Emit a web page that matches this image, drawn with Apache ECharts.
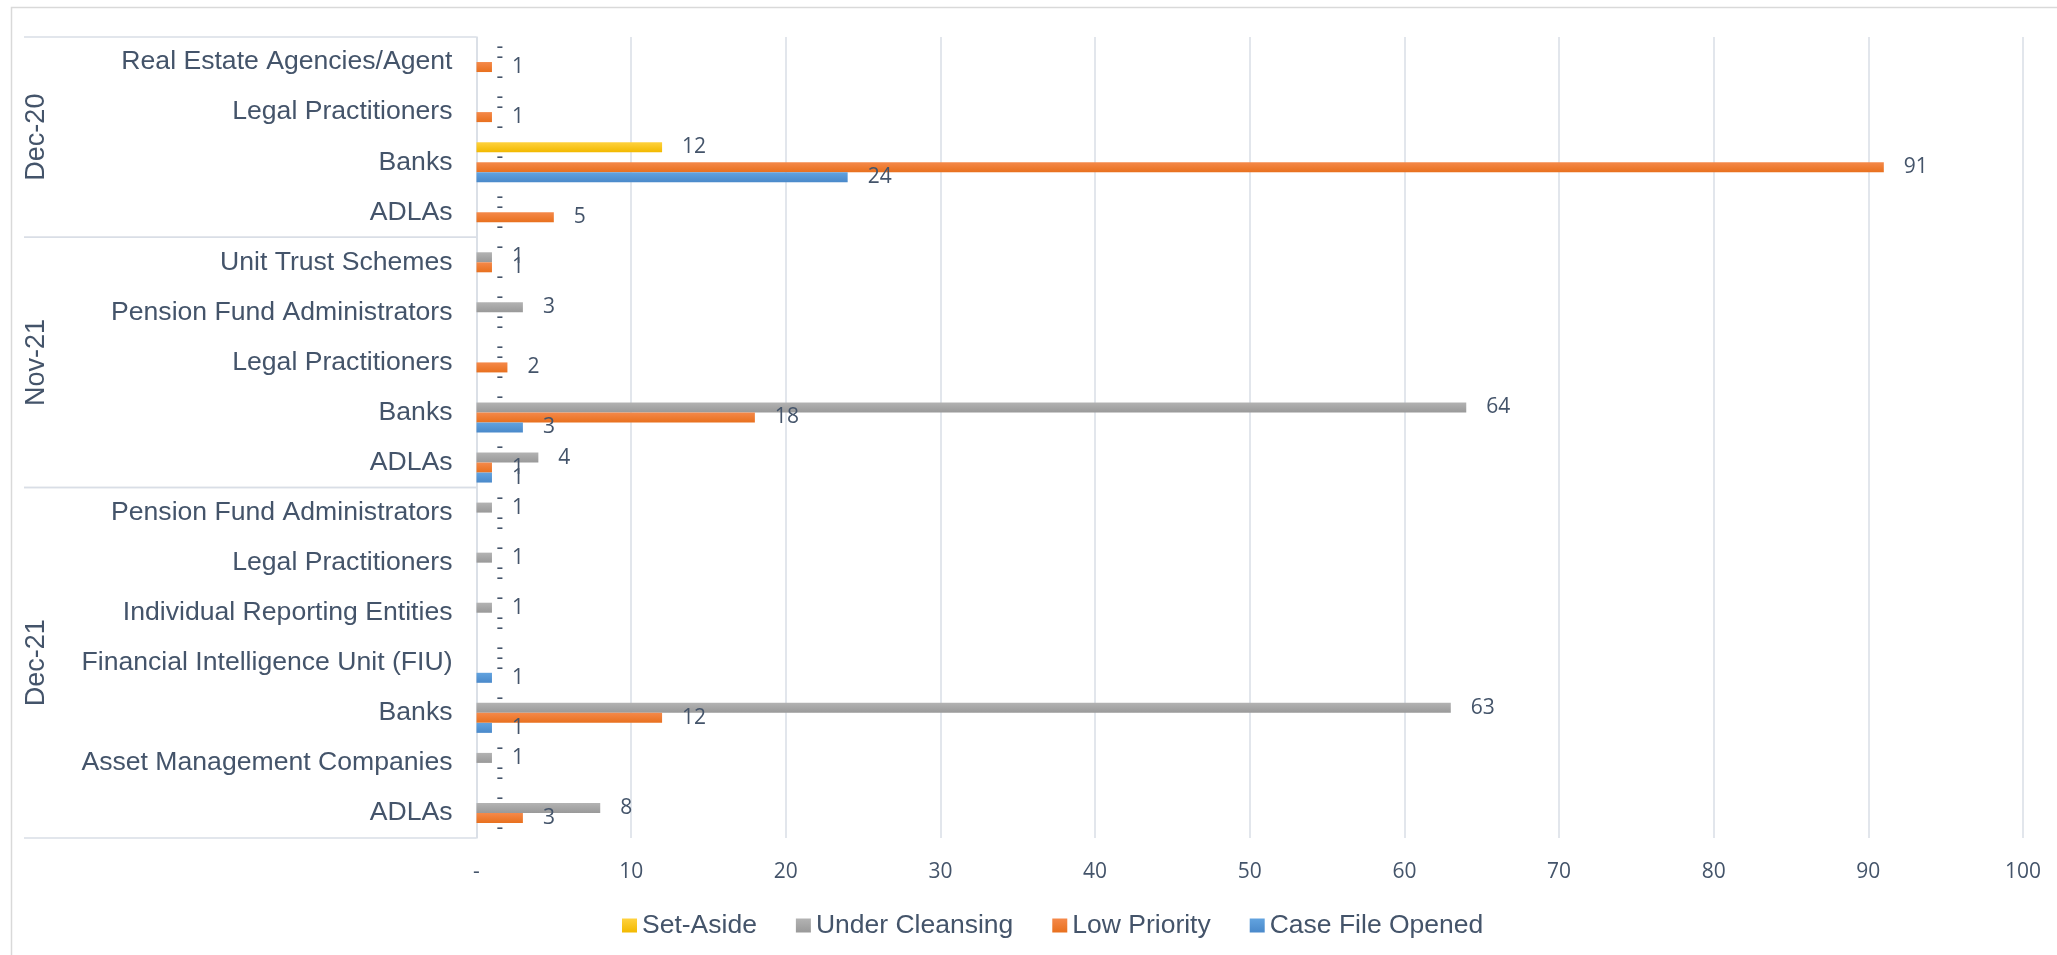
<!DOCTYPE html>
<html>
<head>
<meta charset="utf-8">
<script src="https://cdn.jsdelivr.net/npm/echarts@6/dist/echarts.min.js"></script>
<style>
html,body{margin:0;padding:0;background:#fff;}
#chart{width:2057px;height:955px;}
</style>
</head>
<body>
<div id="chart"></div>
<script>
// Groups listed bottom-to-top (as drawn on the category axis)
const groupNames = ["Dec-21", "Nov-21", "Dec-20"];
const dec21Cats = ["ADLAs", "Asset Management Companies", "Banks", "Financial Intelligence Unit (FIU)", "Individual Reporting Entities", "Legal Practitioners", "Pension Fund Administrators"];
const nov21Cats = ["ADLAs", "Banks", "Legal Practitioners", "Pension Fund Administrators", "Unit Trust Schemes"];
const dec20Cats = ["ADLAs", "Banks", "Legal Practitioners", "Real Estate Agencies/Agent"];

const seriesNames = ["Set-Aside", "Under Cleansing", "Low Priority", "Case File Opened"];

// values per group, same order as the category arrays
const setAside       = [0,0,0,0,0,0,0,   0,0,0,0,0,    0,12,0,0];
const underCleansing = [8,1,63,0,1,1,1,  4,64,0,3,1,   0,0,0,0];
const lowPriority    = [3,0,12,0,0,0,0,  1,18,2,0,1,   5,91,1,1];
const caseFileOpened = [0,0,1,1,0,0,0,   1,3,0,0,0,    0,24,0,0];

const xTicks = [0,10,20,30,40,50,60,70,80,90,100];

const groups = [dec21Cats, nov21Cats, dec20Cats];
const catKeys = [];
groups.forEach((g, gi) => g.forEach(c => { catKeys.push(groupNames[gi] + "|" + c); }));

const textColor = "#44546A";
const lineColor = "#D9DEE6";

function grad(top, bottom) {
  return new echarts.graphic.LinearGradient(0, 0, 0, 1, [
    {offset: 0, color: top}, {offset: 1, color: bottom}
  ]);
}
const colors = [grad("#FFD23F", "#F2B900"), grad("#B3B3B3", "#999999"), grad("#F5894A", "#E8701E"), grad("#62A3DF", "#4A89CA")];
const seriesData = [setAside, underCleansing, lowPriority, caseFileOpened];

const chart = echarts.init(document.getElementById("chart"), null, {renderer: "canvas"});

const option = {
  animation: false,
  backgroundColor: "#ffffff",
  grid: {left: 476.5, right: 34, top: 37, bottom: 117, containLabel: false},
  legend: {
    data: seriesNames,
    left: 617,
    top: 907,
    itemWidth: 15,
    itemHeight: 14,
    itemGap: 39,
    icon: "rect",
    textStyle: {fontFamily: "Liberation Sans, Arial, sans-serif", fontSize: 26.5, color: textColor}
  },
  xAxis: {
    type: "value",
    min: 0, max: 100, interval: 10,
    axisLine: {show: false},
    axisTick: {show: false},
    splitLine: {show: true, lineStyle: {color: lineColor, width: 1.5}},
    axisLabel: {
      margin: 24,
      fontFamily: "Open Sans, sans-serif",
      fontSize: 21,
      color: textColor,
      formatter: v => (v === 0 ? "-" : String(v))
    }
  },
  yAxis: {
    type: "category",
    data: catKeys,
    axisLine: {show: true, lineStyle: {color: lineColor, width: 1.5}},
    axisTick: {show: false},
    axisLabel: {
      margin: 24,
      fontFamily: "Liberation Sans, Arial, sans-serif",
      fontSize: 26.6,
      color: textColor,
      formatter: (v) => v.split("|")[1]
    }
  },
  series: seriesNames.map((name, i) => ({
    name: name,
    type: "bar",
    data: seriesData[i],
    barGap: "0%",
    barCategoryGap: "20%",
    itemStyle: {color: colors[i]},
    label: {
      show: true,
      position: "right",
      distance: 20,
      fontFamily: "Open Sans, sans-serif",
      fontSize: 21,
      color: textColor,
      formatter: p => (p.value === 0 ? "-" : String(p.value))
    }
  }))
};
chart.setOption(option);

// Multi-level category decorations, placed from the axis scale
function drawGroups() {
  const py = i => chart.convertToPixel({yAxisIndex: 0}, i);
  const band = Math.abs(py(0) - py(1));
  const gridLeft = chart.convertToPixel({xAxisIndex: 0}, 0);
  const elements = [];
  // outer chart-area border (cropped in reference)
  elements.push({type: "rect", shape: {x: 11.5, y: 7.5, width: 2200, height: 1200},
    style: {fill: null, stroke: "#D9D9D9", lineWidth: 1.5}, silent: true});
  let start = 0;
  groups.forEach((g, gi) => {
    const end = start + g.length - 1;
    const bottom = py(start) + band / 2;
    const top = py(end) - band / 2;
    [bottom, top].forEach(y => elements.push({
      type: "line", shape: {x1: 24, y1: y, x2: gridLeft, y2: y},
      style: {stroke: lineColor, lineWidth: 1.5}, silent: true
    }));
    elements.push({
      type: "text", x: 37, y: (top + bottom) / 2, rotation: Math.PI / 2,
      style: {text: groupNames[gi], fontFamily: "Liberation Sans, Arial, sans-serif", fontSize: 27,
        fill: textColor, align: "center", verticalAlign: "middle"}, silent: true
    });
    start = end + 1;
  });
  chart.setOption({graphic: {elements: elements}});
}
drawGroups();
</script>
</body>
</html>
